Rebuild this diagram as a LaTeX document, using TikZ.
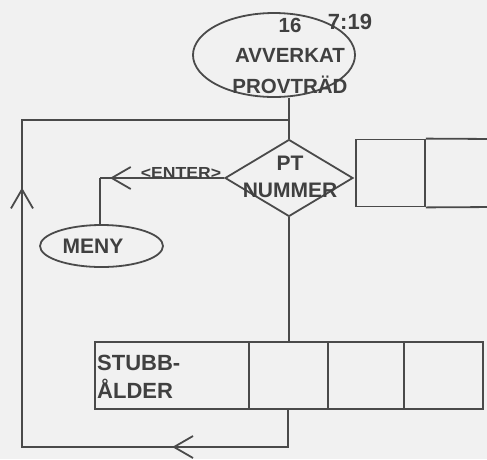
\documentclass[tikz,border=0pt]{standalone}
\usepackage{fontspec}
\setmainfont{Liberation Sans}
\usetikzlibrary{shapes.geometric,arrows.meta,decorations.markings}
\definecolor{ink}{HTML}{4A4A4A}
\definecolor{txt}{HTML}{404040}
\definecolor{paper}{HTML}{F1F1F1}
\tikzset{
  ln/.style={draw=ink,line width=1.8pt,line join=miter},
  shp/.style={ln,inner sep=0pt,fill=none},
  lbl/.style={text=txt,inner sep=0pt,font=\bfseries\fontsize{21}{28}\selectfont},
  cell/.style={shp,rectangle,minimum height=67pt},
}
\newcommand{\barbtip}{\arrow{Straight Barb[length=19pt,width=22pt,line width=1.8pt]}}
\begin{document}
\begin{tikzpicture}[x=1pt,y=-1pt]
\fill[paper] (0,0) rectangle (487,459);
\clip (0,0) rectangle (487,459);
% top ellipse
\node[shp,ellipse,minimum width=162pt,minimum height=84pt] (av) at (274,55) {};
\node[lbl,align=center,font=\bfseries\fontsize{20.5}{30.5}\selectfont] (avt) at (290,55.5) {16\\AVVERKAT\\PROVTRÄD};
\node[lbl,font=\bfseries\fontsize{22}{26}\selectfont] (tm) at (350,22) {7:19};
% diamond
\node[shp,diamond,minimum width=128pt,minimum height=77pt] (d) at (289,178) {};
\node[lbl,align=center,font=\bfseries\fontsize{21}{27}\selectfont] (dt) at (290,177) {PT\\NUMMER};
% right boxes
\node[cell,minimum width=69pt] (r1) at (390.5,173) {};
\coordinate (r2a) at (495,139);
\coordinate (r2b) at (495,207);
\draw[ln] (r1.north east) -- (r2a);
\draw[ln] (r1.south east) -- (r2b);
% MENY
\node[shp,ellipse,minimum width=123pt,minimum height=42pt] (me) at (101.5,246) {};
\node[lbl] (met) at (93,246) {MENY};
\coordinate (e) at (100,178);
\draw[ln,postaction={decorate},decoration={markings,mark=at position 0.92 with {\barbtip}}] (d.west) -- (e);
\draw[ln] (e) -- (e |- me.north);
\node[lbl,font=\bfseries\fontsize{16}{18}\selectfont,xscale=1.1,anchor=south] (en) at (181,178.5) {<ENTER>};
% stubb boxes
\node[cell,minimum width=154pt] (s1) at (172,375.5) {};
\node[cell,minimum width=79pt] (s2) at (288.5,375.5) {};
\node[cell,minimum width=76pt] (s3) at (366,375.5) {};
\node[cell,minimum width=79pt] (s4) at (443.5,375.5) {};
\node[lbl,align=left,anchor=west,font=\bfseries\fontsize{22}{27.5}\selectfont] (st) at (97,377) {STUBB-\\ÅLDER};
% connectors
\draw[ln] (d.north |- av.south) -- (d.north);
\draw[ln] (d.south) -- (d.south |- s1.north);
\coordinate (c1) at (288,447);
\coordinate (c2) at (22,447);
\coordinate (c3) at (22,120);
\coordinate (c4) at (289,120);
\draw[ln,postaction={decorate},decoration={markings,
  mark=at position 0.1704 with {\barbtip},
  mark=at position 0.627 with {\barbtip}}]
  (c1 |- s1.south) -- (c1) -- (c2) -- (c3) -- (c4);
\end{tikzpicture}
\end{document}
